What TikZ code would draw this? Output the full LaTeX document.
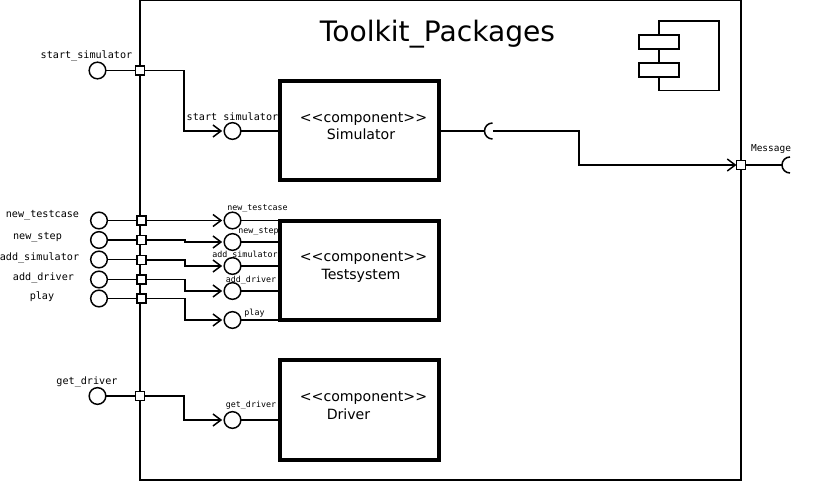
\documentclass[tikz,border=0pt]{standalone}
\usepackage{fontspec}
\setmainfont{DejaVu Sans}
\setmonofont{DejaVu Sans Mono}
\usetikzlibrary{arrows.meta}
\tikzset{
  px/.style={x=0.75pt,y=-0.75pt},
  wire/.style={draw=black,line width=1.15pt,line join=miter},
  arrowwire/.style={wire,shorten >=1.5pt,-{Straight Barb[length=6pt,width=9pt,line width=1.1pt]}},
  port/.style={draw=black,fill=white,line width=1.1pt,minimum size=6.8pt,inner sep=0pt,outer sep=0pt,shape=rectangle},
  lollipop/.style={draw=black,fill=white,line width=1.1pt,circle,minimum size=12.5pt,inner sep=0pt,outer sep=0pt},
  comp/.style={draw=black,line width=3pt,minimum width=119pt,minimum height=74.5pt,inner sep=0pt,outer sep=0pt,shape=rectangle},
  biglabel/.style={font=\ttfamily\fontsize{7.6pt}{9pt}\selectfont,inner sep=0pt,text=black},
  smalllabel/.style={font=\ttfamily\fontsize{6.25pt}{8pt}\selectfont,inner sep=0pt,text=black},
  comptext/.style={font=\fontsize{10.6pt}{13pt}\selectfont,inner sep=0pt,text=black},
  icon/.style={draw=black,line width=1.1pt,fill=white}
}
\begin{document}
\begin{tikzpicture}[px]
\useasboundingbox (0,0) rectangle (818,481);
% frame
\draw[line width=1.5pt] (140,0) rectangle (741,480);
\node[font=\fontsize{21.1pt}{26pt}\selectfont,inner sep=0pt] (title) at (437.5,34.5) {Toolkit\_Packages};
% icon
\draw[icon] (659,21) rectangle (719,90.5);
\draw[icon] (639,35) rectangle (679,49);
\draw[icon] (639,63) rectangle (679,77);
% components
\node[comp] (sim) at (359.8,130.5) {};
\node[comp] (test) at (359.8,270.5) {};
\node[comp] (drv) at (359.8,410) {};
\node[comptext] (simA) at (363.5,119) {<{}<component>{}>};
\node[comptext] (simB) at (361,134.5) {Simulator};
\node[comptext] (testA) at (363.5,258.5) {<{}<component>{}>};
\node[comptext] (testB) at (361,275.5) {Testsystem};
\node[comptext] (drvA) at (363.5,398) {<{}<component>{}>};
\node[comptext] (drvB) at (348.5,414.5) {Driver};
% ports
\node[port] (p1) at (140,70.5) {};
\node[port] (p2) at (141.5,220.5) {};
\node[port] (p3) at (141.5,240) {};
\node[port] (p4) at (141.5,260) {};
\node[port] (p5) at (141.5,279.5) {};
\node[port] (p6) at (141.5,298.5) {};
\node[port] (p7) at (140,396) {};
\node[port] (pm) at (741,165) {};
% outer lollipops
\node[lollipop] (o1) at (97.5,70.5) {};
\node[lollipop] (o2) at (99,220.5) {};
\node[lollipop] (o3) at (99,240) {};
\node[lollipop] (o4) at (99,259.5) {};
\node[lollipop] (o5) at (99,279.5) {};
\node[lollipop] (o6) at (99,298.5) {};
\node[lollipop] (o7) at (97.5,396) {};
% inner lollipops
\node[lollipop] (i1) at (232.5,131) {};
\node[lollipop] (i2) at (232.5,220.5) {};
\node[lollipop] (i3) at (232.5,242) {};
\node[lollipop] (i4) at (232.5,266) {};
\node[lollipop] (i5) at (232.5,291) {};
\node[lollipop] (i6) at (232.5,320) {};
\node[lollipop] (i7) at (232.5,420) {};
% outer wires
\draw[wire] (o1) -- (p1);
\draw[wire] (o2) -- (p2);
\draw[wire] (o3) -- (p3);
\draw[wire] (o4) -- (o4 -| p4.west);
\draw[wire] (o5) -- (p5);
\draw[wire] (o6) -- (p6);
\draw[wire] (o7) -- (p7);
% routed wires
\draw[arrowwire] (p1) -- (184,70.5) -- (184,131) -- (i1);
\draw[arrowwire] (p2) -- (i2);
\draw[arrowwire] (p3) -- (185,240) -- (185,242) -- (i3);
\draw[arrowwire] (p4) -- (185,260) -- (185,266) -- (i4);
\draw[arrowwire] (p5) -- (185,279.5) -- (185,291) -- (i5);
\draw[arrowwire] (p6) -- (185,298.5) -- (185,320) -- (i6);
\draw[arrowwire] (p7) -- (184,396) -- (184,420) -- (i7);
% inner to component
\draw[wire] (i1) -- (i1 -| sim.west);
\draw[wire] (i2) -- (i2 -| test.west);
\draw[wire] (i3) -- (i3 -| test.west);
\draw[wire] (i4) -- (i4 -| test.west);
\draw[wire] (i5) -- (i5 -| test.west);
\draw[wire] (i6) -- (i6 -| test.west);
\draw[wire] (i7) -- (i7 -| drv.west);
% required interfaces
\coordinate (r1) at (484.5,131);
\coordinate (r2) at (493,131);
\coordinate (r3) at (782,165);
\draw[wire] (sim.east |- r1) -- (r1);
\draw[wire] (492.5,139) arc (90:270:8);
\draw[arrowwire,shorten >=0pt] (r2) -- (579,131) -- (579,165) -- (pm);
\draw[wire] (pm) -- (r3);
\draw[wire] (790,173) arc (90:270:8);
% outer labels
\node[biglabel] (l1) at (86.5,55.5) {start\_simulator};
\node[biglabel] (l2) at (42.5,215) {new\_testcase};
\node[biglabel] (l3) at (37.5,237) {new\_step};
\node[biglabel] (l4) at (39.5,258) {add\_simulator};
\node[biglabel] (l5) at (43.5,278) {add\_driver};
\node[biglabel] (l6) at (42,296.5) {play};
\node[biglabel] (l7) at (87,381.5) {get\_driver};
% inner labels
\node[biglabel] (n1) at (232.5,116.5) {start simulator};
\node[smalllabel] (n2) at (257.5,208.5) {new\_testcase};
\node[smalllabel] (n3) at (258.5,232) {new\_step};
\node[smalllabel] (n4) at (245,255) {add\_simulator};
\node[smalllabel] (n5) at (251,280) {add\_driver};
\node[smalllabel] (n6) at (254.5,313) {play};
\node[smalllabel] (n7) at (251,405) {get\_driver};
\node[biglabel,font=\ttfamily\fontsize{7.1pt}{9pt}\selectfont] (n8) at (771,149.5) {Message};
\end{tikzpicture}
\end{document}
